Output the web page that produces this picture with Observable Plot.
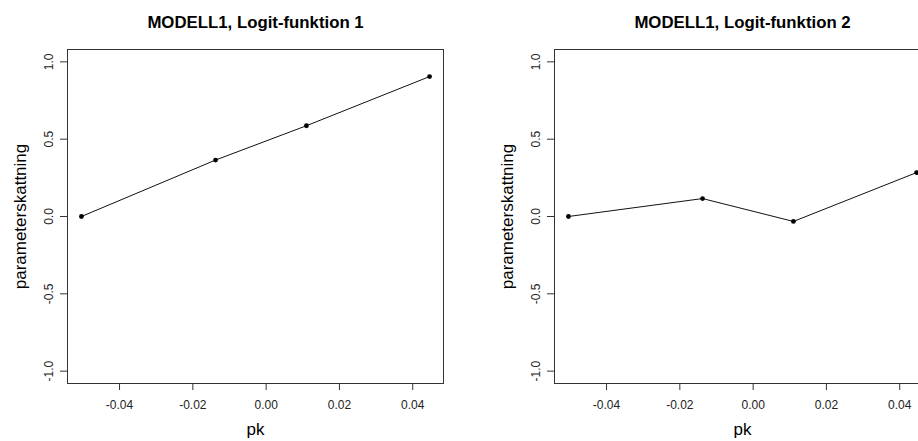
<!DOCTYPE html>
<html>
<head>
<meta charset="utf-8">
<script src="https://cdn.jsdelivr.net/npm/d3@7"></script>
<script src="https://cdn.jsdelivr.net/npm/@observablehq/plot@0.6"></script>
<style>
  html, body { margin: 0; padding: 0; background: #fff; }
  #wrap { width: 918px; height: 441px; overflow: hidden; display: flex; flex-direction: row; }
  #wrap svg { flex: none; font-family: "Liberation Sans", Arial, sans-serif; }
</style>
</head>
<body>
<div id="wrap"></div>
<script>
// Data
const pk = [-0.0504, -0.0138, 0.0110, 0.0446];
const logit1 = [0, 0.365, 0.587, 0.905];
const logit2 = [0, 0.116, -0.032, 0.284];
const titles = ["MODELL1, Logit-funktion 1", "MODELL1, Logit-funktion 2"];
const xTicks = [-0.04, -0.02, 0, 0.02, 0.04];
const yTicks = [-1, -0.5, 0, 0.5, 1];
const xLabel = "pk";
const yLabel = "parameterskattning";

function panel(values, title, width, marginLeft, marginRight) {
  const data = pk.map((x, i) => ({x, y: values[i]}));
  const font = "Liberation Sans, Arial, sans-serif";
  return Plot.plot({
    width,
    height: 441,
    marginLeft,
    marginRight,
    marginTop: 49,
    marginBottom: 58,
    style: {background: "#fff", color: "#000", fontFamily: font},
    x: {domain: [-0.0542, 0.0484], ticks: xTicks},
    y: {domain: [-1.08, 1.08], ticks: yTicks},
    marks: [
      Plot.frame({stroke: "#333", strokeWidth: 1}),
      Plot.axisX({ticks: xTicks, tickSize: 7, tickFormat: () => "", label: null, stroke: "#333"}),
      Plot.axisY({ticks: yTicks, tickSize: 7, tickFormat: () => "", label: null, stroke: "#333"}),
      Plot.text(xTicks, {x: d => d, text: d => d.toFixed(2), frameAnchor: "bottom", dy: 22, fontSize: 12, fill: "#222", lineAnchor: "middle"}),
      Plot.text(yTicks, {y: d => d, text: d => d.toFixed(1), frameAnchor: "left", dx: -18, rotate: -90, fontSize: 12, fill: "#222", lineAnchor: "middle", textAnchor: "middle"}),
      Plot.line(data, {x: "x", y: "y", stroke: "#111", strokeWidth: 1}),
      Plot.dot(data, {x: "x", y: "y", r: 2.4, fill: "#000", stroke: "none"}),
      Plot.text([title], {frameAnchor: "top", dy: -26.5, fontSize: 16.8, fontWeight: "bold", fill: "#000", lineAnchor: "middle"}),
      Plot.text([xLabel], {frameAnchor: "bottom", dy: 45.6, fontSize: 17, fill: "#000", lineAnchor: "middle"}),
      Plot.text([yLabel], {frameAnchor: "left", dx: -47, rotate: -90, fontSize: 17, fill: "#000", lineAnchor: "middle", textAnchor: "middle"})
    ]
  });
}

const wrap = document.getElementById("wrap");
wrap.appendChild(panel(logit1, titles[0], 459, 67, 16));
wrap.appendChild(panel(logit2, titles[1], 480, 95, 9));
</script>
</body>
</html>
